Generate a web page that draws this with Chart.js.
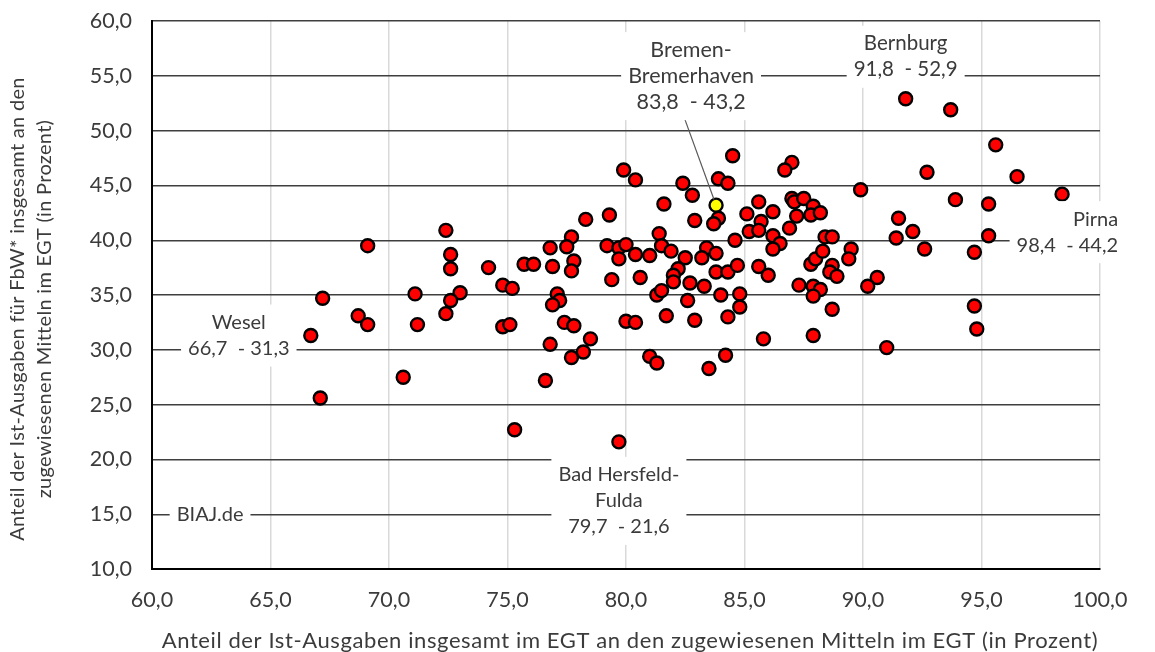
<!DOCTYPE html>
<html lang="de">
<head>
<meta charset="utf-8">
<title>Ist-Ausgaben im EGT</title>
<script src="https://cdn.jsdelivr.net/npm/chart.js@4.4.1/dist/chart.umd.min.js"></script>
<style>
    html, body { margin: 0; padding: 0; background: #fff; }
    #chart { display: block; }
</style>
</head>
<body>
<canvas id="chart" width="1155" height="652"></canvas>
<script>
// Anteil Ist-Ausgaben insgesamt (x) und Anteil FbW (y), je Jobcenter
const xValues = [
    72.4, 69.1, 72.6, 72.6, 67.2, 71.1, 73.0, 72.6, 72.4, 68.7, 69.1, 71.2, 66.7, 70.6, 67.1,
    79.9, 80.4, 78.3, 79.3, 77.7, 76.8, 77.5, 79.2, 79.7, 80.0, 80.4, 81.0, 79.7, 77.8, 77.7, 74.2,
    75.7, 76.1, 76.9, 79.4, 80.6, 74.8, 75.2, 77.1, 77.2, 76.9, 74.8, 75.1, 77.4, 77.8, 80.0, 80.4,
    76.8, 78.5, 78.2, 77.7, 76.6, 75.3, 79.7,
    84.5, 87.0, 86.7, 82.4, 83.9, 84.3, 82.8, 81.6, 85.6, 87.0, 87.1, 87.5, 87.9, 87.8, 86.2, 85.1, 87.2, 83.9,
    83.7, 82.9, 85.7, 86.9, 85.2, 85.6, 86.2, 81.4, 84.6, 86.5, 86.2, 81.5, 81.9, 83.4, 83.8, 83.2, 82.5, 82.2,
    82.0, 82.0, 82.7, 83.3, 83.8, 84.3, 84.7, 85.6, 86.0, 87.3, 87.9, 87.8, 88.0, 81.3, 81.5, 84.0, 84.8,
    82.6, 84.8, 81.7, 82.9, 84.3, 85.8, 87.9, 81.0, 81.3, 84.2, 83.5,
    92.7, 89.9, 93.9, 95.3, 91.5, 92.1, 91.4, 92.6, 94.7, 95.3, 88.2, 88.4,
    88.7, 89.5, 89.4, 88.3, 88.7, 88.6, 88.9, 90.6, 90.2, 88.2, 87.9,
    91.8, 93.7, 95.6, 96.5, 98.4, 88.7, 91.0, 94.8, 94.7,
];
const yValues = [
    40.9, 39.5, 38.7, 37.4, 34.7, 35.1, 35.2, 34.5, 33.3, 33.1, 32.3, 32.3, 31.3, 27.5, 25.6,
    46.4, 45.5, 41.9, 42.3, 40.3, 39.3, 39.4, 39.5, 39.3, 39.6, 38.7, 38.6, 38.3, 38.1, 37.2, 37.5,
    37.8, 37.8, 37.6, 36.4, 36.6, 35.9, 35.6, 35.1, 34.5, 34.1, 32.1, 32.3, 32.5, 32.2, 32.6, 32.5,
    30.5, 31.0, 29.8, 29.3, 27.2, 22.7, 21.6,
    47.7, 47.1, 46.4, 45.2, 45.6, 45.2, 44.1, 43.3, 43.5, 43.8, 43.5, 43.8, 43.1, 42.3, 42.6, 42.4, 42.2, 42.0,
    41.5, 41.8, 41.7, 41.1, 40.8, 40.9, 40.4, 40.6, 40.0, 39.7, 39.2, 39.5, 39.0, 39.3, 38.8, 38.4, 38.4, 37.4,
    36.8, 36.2, 36.1, 35.8, 37.1, 37.1, 37.7, 37.6, 36.8, 35.9, 35.8, 37.8, 38.3, 35.0, 35.4, 35.0, 35.1,
    34.5, 33.9, 33.1, 32.7, 33.0, 31.0, 31.3, 29.4, 28.8, 29.5, 28.3,
    46.2, 44.6, 43.7, 43.3, 42.0, 40.8, 40.2, 39.2, 38.9, 40.4, 42.5, 40.3,
    40.3, 39.2, 38.3, 39.0, 37.7, 37.1, 36.7, 36.6, 35.8, 35.5, 34.9,
    52.9, 51.9, 48.7, 45.8, 44.2, 33.7, 30.2, 31.9, 34.0,
];

// hervorgehobener Punkt (gelb)
const highlightX = [83.8];
const highlightY = [43.2];

// beschriftete Jobcenter
const labelNames = ["Wesel", "Bremen-\nBremerhaven", "Bernburg", "Pirna", "Bad Hersfeld-\nFulda"];
const labelX = [66.7, 83.8, 91.8, 98.4, 79.7];
const labelY = [31.3, 43.2, 52.9, 44.2, 21.6];

const xTitle = "Anteil der Ist-Ausgaben insgesamt im EGT an den zugewiesenen Mitteln im EGT (in Prozent)";
const yTitle = ["Anteil der Ist-Ausgaben für FbW* insgesamt an den", "zugewiesenen Mitteln im EGT (in Prozent)"];
const sourceText = "BIAJ.de";

// Lage der Beschriftungen relativ zum Punkt (Pixel)
const labelLayout = [
    { dx: -72, dy: -13, align: "center", size: 20 },
    { dx: -25, dy: -155, align: "center", size: 21.5, leader: { dx: -32, dy: -88 } },
    { dx: 0, dy: -55, align: "center", size: 20.5 },
    { dx: 56, dy: 25, align: "right", size: 20 },
    { dx: 0, dy: 33, align: "center", size: 20 },
];

const FONT = "Lato";
const TEXT_COLOR = "#3b3b3b";
const LABEL_LINE = 26;
const LABEL_PAD = 7;

const fmt = (v) => v.toFixed(1).replace(".", ",");

const labelPlugin = {
    id: "pointLabels",
    afterDatasetsDraw(chart) {
        const { ctx, chartArea } = chart;
        const xs = chart.scales.x;
        const ys = chart.scales.y;

        const drawBlock = (lines, ax, ay, align) => {
            const widths = lines.map((l) => ctx.measureText(l).width);
            const maxW = Math.max(...widths);
            const left = align === "right" ? ax - maxW - LABEL_PAD : ax - maxW / 2 - LABEL_PAD;
            const top = ay - LABEL_LINE / 2 - 5;
            const h = lines.length * LABEL_LINE + 10;
            ctx.fillStyle = "#fff";
            ctx.fillRect(left, top, maxW + 2 * LABEL_PAD, h);
            ctx.fillStyle = TEXT_COLOR;
            ctx.textAlign = align;
            lines.forEach((l, k) => ctx.fillText(l, ax, ay + k * LABEL_LINE));
        };

        ctx.save();
        ctx.textBaseline = "middle";

        labelNames.forEach((name, i) => {
            const lay = labelLayout[i];
            const px = xs.getPixelForValue(labelX[i]);
            const py = ys.getPixelForValue(labelY[i]);
            if (lay.leader) {
                const sx = px + lay.leader.dx;
                const sy = py + lay.leader.dy;
                const len = Math.hypot(px - sx, py - sy);
                const r = 6;
                ctx.strokeStyle = "#595959";
                ctx.lineWidth = 1.2;
                ctx.beginPath();
                ctx.moveTo(sx, sy);
                ctx.lineTo(px - ((px - sx) * r) / len, py - ((py - sy) * r) / len);
                ctx.stroke();
            }
            ctx.font = `${lay.size}px ${FONT}`;
            const lines = name.split("\n").concat(`${fmt(labelX[i])}  - ${fmt(labelY[i])}`);
            drawBlock(lines, px + lay.dx, py + lay.dy, lay.align);
        });

        // Quelle
        ctx.font = `20px ${FONT}`;
        drawBlock([sourceText], xs.getPixelForValue(62.45), ys.getPixelForValue(15), "center");

        // Achsentitel
        ctx.fillStyle = TEXT_COLOR;
        ctx.textAlign = "center";
        ctx.font = `22px ${FONT}`;
        ctx.letterSpacing = "0.6px";
        ctx.fillText(xTitle, (chartArea.left + chartArea.right) / 2 + 4, 641);

        ctx.font = `20px ${FONT}`;
        ctx.letterSpacing = "0.3px";
        ctx.translate(0, (chartArea.top + chartArea.bottom) / 2 + 14);
        ctx.rotate(-Math.PI / 2);
        yTitle.forEach((line, k) => ctx.fillText(line, 0, 18 + k * 27));
        ctx.restore();
    },
};

const tickFont = { family: FONT, size: 21.5 };
const tickFormat = (value) => fmt(value);

new Chart(document.getElementById("chart"), {
    type: "scatter",
    data: {
        datasets: [
            {
                data: xValues.map((x, i) => ({ x, y: yValues[i] })),
                backgroundColor: "#ff0000",
                borderColor: "#000",
                borderWidth: 2.4,
                pointRadius: 6.5,
            },
            {
                data: highlightX.map((x, i) => ({ x, y: highlightY[i] })),
                backgroundColor: "#ffff00",
                borderColor: "#000",
                borderWidth: 2.4,
                pointRadius: 6.5,
            },
        ],
    },
    options: {
        responsive: false,
        animation: false,
        devicePixelRatio: 1,
        events: [],
        layout: {
            padding: { top: 21, right: 55, bottom: 0, left: 0 },
        },
        plugins: {
            legend: { display: false },
            tooltip: { enabled: false },
        },
        scales: {
            x: {
                type: "linear",
                min: 60,
                max: 100,
                afterFit: (scale) => {
                    scale.height = 83;
                },
                grid: { color: "#d9d9d9", lineWidth: 1.5, drawTicks: false },
                border: { color: "#000", width: 2 },
                ticks: {
                    stepSize: 5,
                    padding: 18,
                    color: TEXT_COLOR,
                    font: tickFont,
                    callback: tickFormat,
                },
            },
            y: {
                type: "linear",
                min: 10,
                max: 60,
                afterFit: (scale) => {
                    scale.width = 152;
                },
                // unsichtbare Tick-Striche statt Label-Padding, damit oben kein Zusatzabstand entsteht
                grid: {
                    color: "#3f3f3f",
                    lineWidth: 1.4,
                    drawTicks: true,
                    tickLength: 20,
                    tickColor: "rgba(0,0,0,0)",
                },
                border: { color: "#000", width: 2 },
                ticks: {
                    stepSize: 5,
                    padding: 0,
                    color: TEXT_COLOR,
                    font: tickFont,
                    callback: tickFormat,
                },
            },
        },
    },
    plugins: [labelPlugin],
});
</script>
</body>
</html>
